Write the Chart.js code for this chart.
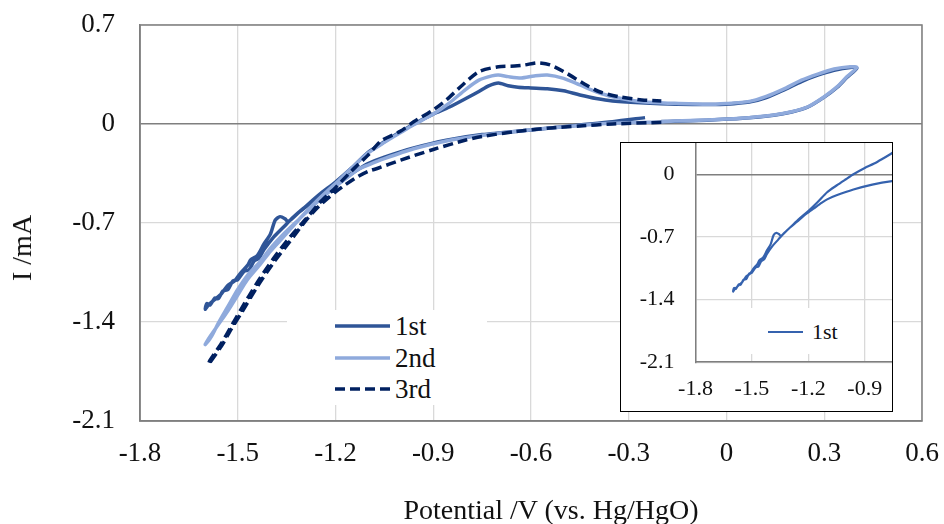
<!DOCTYPE html>
<html>
<head>
<meta charset="utf-8">
<script src="https://cdn.jsdelivr.net/npm/chart.js@4.4.1/dist/chart.umd.min.js"></script>
<style>
  html, body { margin: 0; padding: 0; background: #fff; }
  #wrap { position: relative; width: 944px; height: 524px; overflow: hidden;
          font-family: 'Liberation Serif', 'Times New Roman', serif; color: #111; }
  #main { position: absolute; left: 0; top: 0; }
  .title { position: absolute; font-size: 28px; white-space: nowrap; line-height: 28px; }
  #ytitle { left: 21.5px; top: 247.5px; transform: translate(-50%, -50%) rotate(-90deg); }
  #xtitle { left: 551px; top: 510px; transform: translate(-50%, -50%); }
  .legend { position: absolute; background: #fff; }
  .legend svg, .legend span { position: absolute; }
  .legend span { white-space: nowrap; }
  #legend { left: 287px; top: 310px; width: 200px; height: 95px; }
  #legend span { font-size: 27px; line-height: 32px; }
  #insetBox { position: absolute; left: 620px; top: 142px; width: 271px; height: 268px;
              border: 1.5px solid #000; background: #fff; }
  #inset { position: absolute; left: 0; top: 0; }
  #insetLegend { left: 745px; top: 308px; width: 113px; height: 46px; }
  #insetLegend span { font-size: 22px; line-height: 26px; }
</style>
</head>
<body>
<div id="wrap">
  <canvas id="main" width="944" height="524"></canvas>
  <div id="ytitle" class="title">I /mA</div>
  <div id="xtitle" class="title">Potential /V (vs. Hg/HgO)</div>
  <div id="legend" class="legend"></div>
  <div id="insetBox"><canvas id="inset" width="271" height="268"></canvas></div>
  <div id="insetLegend" class="legend"></div>
</div>
<script>
// ============================================================
// Data (potential V, current mA)
// ============================================================
const seriesNames = ['1st', '2nd', '3rd'];

const xTicks = [-1.8, -1.5, -1.2, -0.9, -0.6, -0.3, 0, 0.3, 0.6];
const yTicks = [-2.1, -1.4, -0.7, 0, 0.7];
const insetXTicks = [-1.8, -1.5, -1.2, -0.9];
const insetYTicks = [-2.1, -1.4, -0.7, 0];

// 1st cycle
const firstV = [-0.25, -0.35, -0.45, -0.60, -0.75, -0.86, -0.96, -1.05, -1.10, -1.13,
  -1.17, -1.21, -1.26, -1.31, -1.345, -1.355, -1.37, -1.385, -1.40, -1.42,
  -1.44, -1.46, -1.47, -1.49, -1.51, -1.53, -1.55, -1.57, -1.59, -1.60,
  -1.595, -1.585, -1.57, -1.56, -1.545, -1.53, -1.515, -1.50, -1.48, -1.465,
  -1.45, -1.435, -1.42, -1.39,
  -1.36, -1.33, -1.29, -1.25, -1.20, -1.15, -1.10, -1.05, -1.00, -0.96,
  -0.90, -0.85, -0.80, -0.76, -0.73, -0.70, -0.67, -0.64, -0.60, -0.55,
  -0.50, -0.45, -0.40, -0.35, -0.25, -0.15, -0.05, 0.00, 0.07, 0.12,
  0.18, 0.23, 0.28, 0.33, 0.38, 0.40,
  0.37, 0.34, 0.30, 0.25, 0.20, 0.145, 0.05, -0.06, -0.16, -0.20];
const firstI = [0.045, 0.016, -0.007, -0.042, -0.075, -0.115, -0.17, -0.235, -0.28, -0.32,
  -0.38, -0.44, -0.53, -0.62, -0.69, -0.67, -0.655, -0.68, -0.78, -0.85,
  -0.93, -0.96, -1.00, -1.05, -1.11, -1.14, -1.20, -1.24, -1.28, -1.31,
  -1.27, -1.28, -1.23, -1.235, -1.18, -1.17, -1.11, -1.10, -1.04, -1.03,
  -0.97, -0.95, -0.89, -0.80,
  -0.73, -0.66, -0.58, -0.50, -0.41, -0.31, -0.20, -0.125, -0.055, 0.0,
  0.07, 0.12, 0.18, 0.23, 0.27, 0.29, 0.27, 0.26, 0.255, 0.25,
  0.235, 0.205, 0.18, 0.163, 0.148, 0.14, 0.138, 0.14, 0.155, 0.185,
  0.245, 0.30, 0.345, 0.38, 0.40, 0.395,
  0.33, 0.26, 0.19, 0.12, 0.085, 0.062, 0.04, 0.027, 0.02, 0.017];

// 2nd cycle
const secondV = [-0.20, -0.35, -0.45, -0.60, -0.75, -0.86, -0.96, -1.05, -1.10, -1.13,
  -1.17, -1.21, -1.26, -1.31, -1.36, -1.40, -1.43, -1.47, -1.50, -1.53,
  -1.56, -1.58, -1.60,
  -1.59, -1.56, -1.53, -1.50, -1.47, -1.43, -1.40, -1.36, -1.31, -1.26,
  -1.20, -1.15, -1.10, -1.05, -1.00, -0.96, -0.90, -0.85, -0.80, -0.76,
  -0.72, -0.70, -0.67, -0.63, -0.59, -0.55, -0.50, -0.45, -0.40, -0.35,
  -0.25, -0.16, -0.06, 0.00, 0.07, 0.12, 0.18, 0.23, 0.28, 0.33,
  0.38, 0.40,
  0.37, 0.34, 0.30, 0.25, 0.20, 0.145, 0.04, -0.06, -0.16, -0.20];
const secondI = [0.015, 0.005, -0.01, -0.04, -0.08, -0.12, -0.175, -0.245, -0.29, -0.32,
  -0.39, -0.46, -0.56, -0.67, -0.78, -0.88, -0.97, -1.07, -1.17, -1.29,
  -1.41, -1.50, -1.56,
  -1.52, -1.42, -1.32, -1.21, -1.10, -0.99, -0.90, -0.80, -0.67, -0.55,
  -0.42, -0.31, -0.205, -0.13, -0.06, -0.005, 0.07, 0.15, 0.245, 0.31,
  0.34, 0.347, 0.335, 0.325, 0.34, 0.347, 0.323, 0.276, 0.228, 0.193,
  0.155, 0.146, 0.139, 0.145, 0.16, 0.193, 0.252, 0.31, 0.353, 0.389,
  0.405, 0.40,
  0.335, 0.264, 0.193, 0.122, 0.087, 0.064, 0.04, 0.028, 0.021, 0.016];

// 3rd cycle
const thirdV = [-0.20, -0.35, -0.45, -0.55, -0.65, -0.75, -0.80, -0.90, -1.00, -1.07,
  -1.10, -1.13, -1.17, -1.20, -1.25, -1.29, -1.34, -1.39, -1.44, -1.49,
  -1.52, -1.55, -1.59,
  -1.585, -1.55, -1.52, -1.49, -1.44, -1.39, -1.34, -1.29, -1.25, -1.20,
  -1.15, -1.10, -1.06, -1.00, -0.96, -0.90, -0.86, -0.81, -0.76, -0.70,
  -0.65, -0.62, -0.58, -0.54, -0.49, -0.44, -0.39, -0.33, -0.26, -0.20];
const thirdI = [0.012, 0.0, -0.014, -0.03, -0.054, -0.088, -0.113, -0.18, -0.255, -0.313,
  -0.335, -0.37, -0.43, -0.48, -0.58, -0.68, -0.83, -0.98, -1.15, -1.34,
  -1.45, -1.57, -1.70,
  -1.67, -1.55, -1.43, -1.31, -1.12, -0.95, -0.80, -0.67, -0.56, -0.45,
  -0.33, -0.22, -0.12, -0.05, 0.016, 0.10, 0.17, 0.276, 0.37, 0.405,
  0.41, 0.417, 0.433, 0.417, 0.358, 0.288, 0.228, 0.193, 0.17, 0.163];

// ============================================================
// Helpers
// ============================================================
function pts(vs, is) {
  return vs.map((v, k) => ({ x: v, y: is[k] }));
}

function fmt(v) {
  return String(Math.round(v * 10) / 10);
}

function sampleSvg(w, color, width, dash) {
  return `<svg width="${w}" height="8" style="left:0;top:0">
    <line x1="0" y1="4" x2="${w}" y2="4" stroke="${color}" stroke-width="${width}"
      ${dash ? `stroke-dasharray="${dash.join(' ')}"` : ''}/></svg>`;
}

// fixed axis sizes, no extra room for overhanging labels
function fixX(h) {
  return s => { s.height = h; s.paddingLeft = 0; s.paddingRight = 0; };
}
function fixY(w) {
  return s => { s.width = w; s.paddingTop = 0; s.paddingBottom = 0; };
}

// grey frame round the plot area
const areaBorder = {
  id: 'areaBorder',
  beforeDatasetsDraw(chart) {
    const { ctx, chartArea: a } = chart;
    ctx.save();
    ctx.strokeStyle = '#7f7f7f';
    ctx.lineWidth = 1.5;
    ctx.strokeRect(a.left, a.top, a.right - a.left, a.bottom - a.top);
    ctx.restore();
  }
};

Chart.defaults.font.family = "'Liberation Serif', 'Times New Roman', serif";
Chart.defaults.color = '#111';

const zeroGrid = c => (c.tick && c.tick.value === 0 ? '#7f7f7f' : '#d9d9d9');
const zeroWidth = c => (c.tick && c.tick.value === 0 ? 1.5 : 1.3);

// ============================================================
// Main chart
// ============================================================
const styles = [
  { color: '#2F5597', width: 3.5, dash: null, order: 3 },
  { color: '#8FAADC', width: 3.5, dash: null, order: 2 },
  { color: '#002060', width: 3.5, dash: [10, 5], order: 1 },
];
const seriesData = [pts(firstV, firstI), pts(secondV, secondI), pts(thirdV, thirdI)];

new Chart(document.getElementById('main'), {
  type: 'scatter',
  data: {
    datasets: seriesNames.map((name, k) => ({
      label: name,
      data: seriesData[k],
      showLine: true,
      borderColor: styles[k].color,
      backgroundColor: styles[k].color,
      borderWidth: styles[k].width,
      borderDash: styles[k].dash || [],
      order: styles[k].order,
    })),
  },
  options: {
    responsive: false,
    animation: false,
    layout: { padding: { top: 25, right: 22, left: 0, bottom: 0 } },
    elements: { point: { radius: 0 }, line: { tension: 0.25, fill: false } },
    plugins: { legend: { display: false }, tooltip: { enabled: false } },
    scales: {
      x: {
        type: 'linear', min: -1.8, max: 0.6,
        afterBuildTicks: s => { s.ticks = xTicks.map(v => ({ value: v })); },
        afterFit: fixX(103),
        grid: { color: '#d9d9d9', lineWidth: 1.3, drawTicks: false },
        border: { color: '#7f7f7f', width: 1.5 },
        ticks: { padding: 17, font: { size: 27 }, maxRotation: 0, autoSkip: false, callback: v => fmt(v) },
      },
      y: {
        type: 'linear', min: -2.1, max: 0.7,
        afterBuildTicks: s => { s.ticks = yTicks.map(v => ({ value: v })); },
        afterFit: fixY(140),
        grid: { color: zeroGrid, lineWidth: zeroWidth, drawTicks: false },
        border: { color: '#7f7f7f', width: 1.5 },
        ticks: { padding: 25, font: { size: 27 }, autoSkip: false, callback: v => fmt(v) },
      },
    },
  },
  plugins: [areaBorder],
});

// legend inside the plot
const legendRows = [326, 358, 389];
document.getElementById('legend').innerHTML = seriesNames.map((name, k) => `
  <div style="position:absolute;left:48px;top:${legendRows[k] - 310 - 4}px">
    ${sampleSvg(55, styles[k].color, styles[k].width, styles[k].dash)}</div>
  <span style="left:108px;top:${legendRows[k] - 310 - 16}px">${name}</span>
`).join('');

// ============================================================
// Inset chart (1st cycle only)
// ============================================================
const insetColor = '#3562AE';

new Chart(document.getElementById('inset'), {
  type: 'scatter',
  data: {
    datasets: [{
      label: seriesNames[0],
      data: pts(firstV, firstI),
      showLine: true,
      borderColor: insetColor,
      backgroundColor: insetColor,
      borderWidth: 2.2,
    }],
  },
  options: {
    responsive: false,
    animation: false,
    layout: { padding: 0 },
    elements: { point: { radius: 0 }, line: { tension: 0.25, fill: false } },
    plugins: { legend: { display: false }, tooltip: { enabled: false } },
    scales: {
      x: {
        type: 'linear', min: -1.8, max: -0.755,
        afterBuildTicks: s => { s.ticks = insetXTicks.map(v => ({ value: v })); },
        afterFit: fixX(48.8),
        grid: { color: '#d9d9d9', lineWidth: 1.3, drawTicks: false },
        border: { color: '#7f7f7f', width: 1.5 },
        ticks: { padding: 14, font: { size: 22 }, maxRotation: 0, autoSkip: false, callback: v => fmt(v) },
      },
      y: {
        type: 'linear', min: -2.1, max: 0.35,
        afterBuildTicks: s => { s.ticks = insetYTicks.map(v => ({ value: v })); },
        afterFit: fixY(74.5),
        grid: { color: zeroGrid, lineWidth: zeroWidth, drawTicks: false },
        border: { color: '#7f7f7f', width: 1.5 },
        ticks: { padding: 21, font: { size: 22 }, autoSkip: false, callback: v => fmt(v) },
      },
    },
  },
});

document.getElementById('insetLegend').innerHTML = `
  <div style="position:absolute;left:23px;top:20px">${sampleSvg(35, insetColor, 2.2, null)}</div>
  <span style="left:67px;top:11px">${seriesNames[0]}</span>`;
</script>
</body>
</html>
